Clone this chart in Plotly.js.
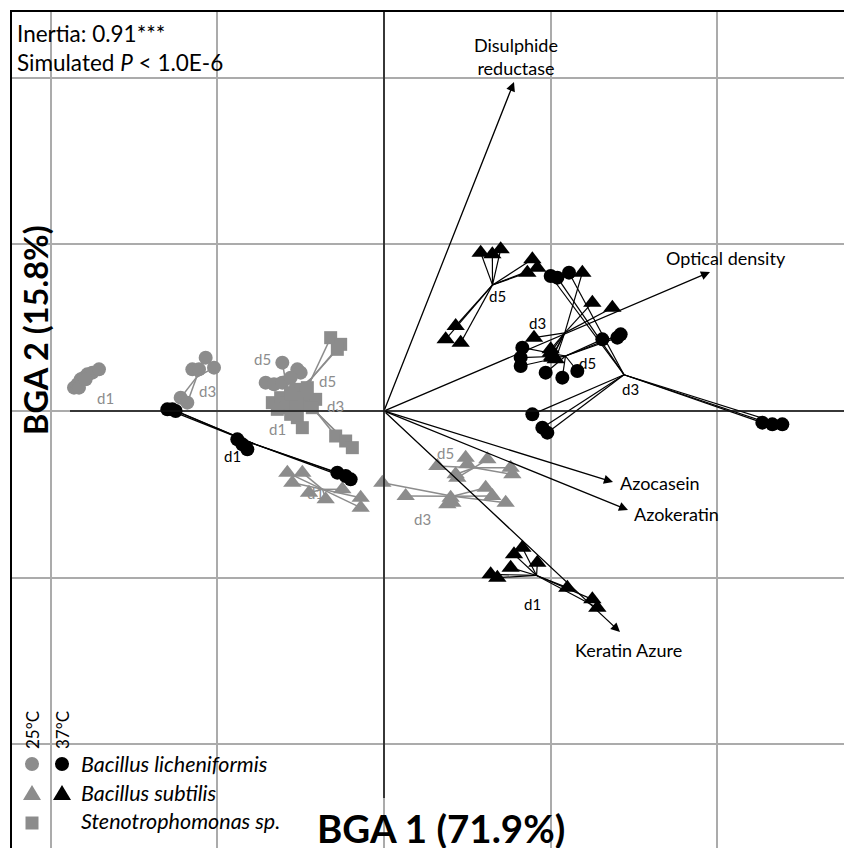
<!DOCTYPE html>
<html><head><meta charset="utf-8">
<script src="https://cdn.plot.ly/plotly-3.0.1.min.js"></script>
<style>html,body{margin:0;padding:0;background:#fff}#chart{width:844px;height:848px}</style>
</head><body><div id="chart"></div>
<script>
// ---------- data (BGA scores) ----------
// Bacillus licheniformis 25°C
const lich25_d1_x = [-1.86,-1.84,-1.82,-1.80,-1.78,-1.75,-1.71,-1.83,-1.79];
const lich25_d1_y = [0.14,0.16,0.19,0.20,0.22,0.23,0.25,0.14,0.19];
const lich25_d3_x = [-1.07,-1.15,-1.11,-1.02,-1.22,-1.18];
const lich25_d3_y = [0.32,0.25,0.25,0.26,0.08,0.05];
const lich25_d5_x = [-0.61,-0.52,-0.50,-0.71,-0.66,-0.61,-0.56];
const lich25_d5_y = [0.29,0.25,0.23,0.17,0.16,0.17,0.20];
// Stenotrophomonas sp. 25°C
const sten25_d1_x = [-0.67,-0.62,-0.59,-0.56,-0.52,-0.49,-0.64,-0.58,-0.53];
const sten25_d1_y = [0.05,0.08,0.02,-0.02,-0.04,-0.10,0.01,0.05,0.04];
const sten25_d3_x = [-0.29,-0.23,-0.19,-0.50,-0.47,-0.41,-0.56,-0.53,-0.43];
const sten25_d3_y = [-0.15,-0.18,-0.22,0.07,0.04,0.07,0.11,0.13,0.02];
const sten25_d5_x = [-0.32,-0.26,-0.28,-0.50,-0.47,-0.53,-0.52,-0.46,-0.56];
const sten25_d5_y = [0.44,0.40,0.37,0.10,0.11,0.08,0.04,0.14,0.10];
// Bacillus subtilis 25°C
const subt25_d1_x = [-0.58,-0.55,-0.49,-0.45,-0.35,-0.25,-0.14,-0.14];
const subt25_d1_y = [-0.37,-0.43,-0.37,-0.49,-0.53,-0.47,-0.52,-0.58];
const subt25_d3_x = [-0.01,0.13,0.38,0.41,0.40,0.61,0.65,0.73];
const subt25_d3_y = [-0.43,-0.51,-0.56,-0.55,-0.52,-0.46,-0.51,-0.55];
const subt25_d5_x = [0.32,0.49,0.50,0.43,0.44,0.62,0.76,0.77];
const subt25_d5_y = [-0.33,-0.28,-0.32,-0.38,-0.40,-0.29,-0.34,-0.38];
// Bacillus licheniformis 37°C
const lich37_d1_x = [-1.30,-1.27,-1.25,-0.88,-0.85,-0.82,-0.28,-0.23,-0.20];
const lich37_d1_y = [0.01,0.01,0.00,-0.17,-0.20,-0.23,-0.37,-0.39,-0.41];
const lich37_d3_x = [0.89,0.95,0.98,2.27,2.33,2.39,1.00,1.04,1.11];
const lich37_d3_y = [-0.02,-0.10,-0.13,-0.07,-0.08,-0.08,0.81,0.80,0.83];
const lich37_d5_x = [0.83,0.82,0.82,0.97,1.07,1.16,1.31,1.40,1.42];
const lich37_d5_y = [0.38,0.32,0.27,0.23,0.20,0.24,0.43,0.44,0.46];
// Bacillus subtilis 37°C
const subt37_d1_x = [0.64,0.68,0.76,0.78,0.83,0.92,1.10,1.25,1.28];
const subt37_d1_y = [-0.98,-1.00,-0.94,-0.86,-0.82,-0.91,-1.06,-1.13,-1.18];
const subt37_d3_x = [0.90,1.00,1.19,1.25,1.37,1.00,1.01,1.03,1.01];
const subt37_d3_y = [0.44,0.35,0.83,0.65,0.62,0.37,0.33,0.31,0.32];
const subt37_d5_x = [0.58,0.65,0.70,0.43,0.37,0.46,0.89,0.86,0.92];
const subt37_d5_y = [0.95,0.94,0.97,0.51,0.43,0.41,0.91,0.83,0.86];

// group labels (day) and their positions
const dayLabels = ['d1','d3','d5'];
const lich25_lblX = [-1.67,-1.06,-0.73], lich25_lblY = [0.08,0.12,0.31];
const sten25_lblX = [-0.64,-0.29,-0.34], sten25_lblY = [-0.11,0.03,0.18];
const subt25_lblX = [-0.41,0.23,0.37],  subt25_lblY = [-0.49,-0.65,-0.25];
const lich37_lblX = [-0.91,1.48,1.22],  lich37_lblY = [-0.27,0.13,0.29];
const subt37_lblX = [0.89,0.92,0.68],   subt37_lblY = [-1.16,0.53,0.69];

// variable arrows (correlations)
const varNames = ['Disulphide<br>reductase','Optical density','Azocasein','Azokeratin','Keratin Azure'];
const varX = [0.78,1.956,1.374,1.464,1.416];
const varY = [1.974,0.834,-0.426,-0.594,-1.326];

// legend
const speciesNames = ['Bacillus licheniformis','Bacillus subtilis','Stenotrophomonas sp.'];
const tempNames = ['25°C','37°C'];

// ---------- styles ----------
const GRAY = '#8c8c8c', BLACK = '#000000';
const FONT = 'Lato, "Open Sans", sans-serif';
const W = 844, H = 848, ML = 12, MT = 12;
const PX = 166.67; // pixels per unit
const OX = 384, OY = 411; // origin pixel
const xRange = [(ML-OX)/PX, (W-OX)/PX];
const yRange = [(OY-H)/PX, (OY-MT)/PX];
const paperX = px => (px-ML)/(W-ML);
const paperY = py => (H-py)/(H-MT);

const series = [
  {xs:[lich25_d1_x,lich25_d3_x,lich25_d5_x], ys:[lich25_d1_y,lich25_d3_y,lich25_d5_y], lx:lich25_lblX, ly:lich25_lblY, sym:'circle', col:GRAY},
  {xs:[sten25_d1_x,sten25_d3_x,sten25_d5_x], ys:[sten25_d1_y,sten25_d3_y,sten25_d5_y], lx:sten25_lblX, ly:sten25_lblY, sym:'square', col:GRAY},
  {xs:[subt25_d1_x,subt25_d3_x,subt25_d5_x], ys:[subt25_d1_y,subt25_d3_y,subt25_d5_y], lx:subt25_lblX, ly:subt25_lblY, sym:'triangle-up', col:GRAY},
  {xs:[lich37_d1_x,lich37_d3_x,lich37_d5_x], ys:[lich37_d1_y,lich37_d3_y,lich37_d5_y], lx:lich37_lblX, ly:lich37_lblY, sym:'circle', col:BLACK},
  {xs:[subt37_d1_x,subt37_d3_x,subt37_d5_x], ys:[subt37_d1_y,subt37_d3_y,subt37_d5_y], lx:subt37_lblX, ly:subt37_lblY, sym:'triangle-up', col:BLACK}
];
const symSize = {'circle':14,'square':13,'triangle-up':16};

const lineTraces = [], markerTraces = [], annotations = [];
series.forEach(s => {
  s.xs.forEach((gx, gi) => {
    const gy = s.ys[gi];
    const cx = gx.reduce((a,b)=>a+b,0)/gx.length;
    const cy = gy.reduce((a,b)=>a+b,0)/gy.length;
    const lx = [], ly = [];
    gx.forEach((v,i)=>{ lx.push(cx, v, null); ly.push(cy, gy[i], null); });
    lineTraces.push({type:'scatter', mode:'lines', x:lx, y:ly, hoverinfo:'skip',
      line:{color:s.col, width: s.col===GRAY?1.5:1.2}, showlegend:false});
    markerTraces.push({type:'scatter', mode:'markers', x:gx, y:gy, showlegend:false,
      marker:{symbol:s.sym, size:symSize[s.sym], color:s.col, line:{width:0}}});
    annotations.push({x:s.lx[gi], y:s.ly[gi], xref:'x', yref:'y', text:dayLabels[gi], showarrow:false,
      font:{family:FONT, size:15, color:s.col}});
  });
});

// arrows
varX.forEach((vx,i)=>{
  annotations.push({x:vx, y:varY[i], ax:0, ay:0, xref:'x', yref:'y', axref:'x', ayref:'y',
    text:'', showarrow:true, arrowhead:2, arrowsize:1.4, arrowwidth:1.3, arrowcolor:'#000', standoff:0, startstandoff:0});
});
const varLbl = [
  {xa:'center', ya:'bottom', xs:2, ys:1},
  {xa:'center', ya:'bottom', xs:16, ys:1},
  {xa:'left', ya:'middle', xs:5, ys:-1},
  {xa:'left', ya:'middle', xs:4, ys:-4},
  {xa:'center', ya:'top', xs:8, ys:-5}
];
varNames.forEach((n,i)=>{
  annotations.push({x:varX[i], y:varY[i], xref:'x', yref:'y', text:n, showarrow:false,
    xanchor:varLbl[i].xa, yanchor:varLbl[i].ya, xshift:varLbl[i].xs, yshift:varLbl[i].ys,
    font:{family:FONT, size:18, color:'#000'}});
});

// texts
annotations.push({xref:'paper', yref:'paper', x:paperX(15), y:paperY(33), xanchor:'left', yanchor:'middle',
  text:'Inertia: 0.91***', showarrow:false, font:{family:FONT, size:22.5, color:'#000'}});
annotations.push({xref:'paper', yref:'paper', x:paperX(15), y:paperY(63), xanchor:'left', yanchor:'middle',
  text:'Simulated <i>P</i> &lt; 1.0E-6', showarrow:false, font:{family:FONT, size:22.5, color:'#000'}});
// axis titles
annotations.push({xref:'paper', yref:'paper', x:paperX(35), y:paperY(330), xanchor:'center', yanchor:'middle',
  textangle:-90, text:'<b>BGA 2 (15.8%)</b>', showarrow:false, font:{family:FONT, size:32.5, color:'#000'}});
annotations.push({xref:'paper', yref:'paper', x:paperX(315), y:paperY(828), xanchor:'left', yanchor:'middle',
  text:'<b>BGA 1 (71.9%)</b>', showarrow:false, font:{family:FONT, size:38.5, color:'#000'}});
// legend
annotations.push({xref:'paper', yref:'paper', x:paperX(32), y:paperY(730), xanchor:'center', yanchor:'middle',
  textangle:-90, text:tempNames[0], showarrow:false, font:{family:FONT, size:17, color:'#000'}});
annotations.push({xref:'paper', yref:'paper', x:paperX(62), y:paperY(730), xanchor:'center', yanchor:'middle',
  textangle:-90, text:tempNames[1], showarrow:false, font:{family:FONT, size:17, color:'#000'}});
const legY = [764, 793, 821];
speciesNames.forEach((n,i)=>{
  annotations.push({xref:'paper', yref:'paper', x:paperX(79), y:paperY(legY[i]), xanchor:'left', yanchor:'middle',
    text:'<i>'+n+'</i>', showarrow:false, font:{family:FONT, size:21.5, color:'#000'}});
});

const shapes = [
  // axes through origin
  {type:'line', xref:'x', yref:'y', x0:(70-OX)/PX, x1:xRange[1], y0:0, y1:0, line:{color:'#111', width:1.5}},
  {type:'line', xref:'x', yref:'y', x0:0, x1:0, y0:yRange[1], y1:(OY-798)/PX, line:{color:'#111', width:1.5}},
];
// legend symbols
const legSym = (px, py, kind, col) => {
  const base = {xref:'paper', yref:'paper', xsizemode:'pixel', ysizemode:'pixel', xanchor:paperX(px), yanchor:paperY(py),
    fillcolor:col, line:{width:0}};
  if (kind==='circle') return Object.assign(base,{type:'circle', x0:-7, x1:7, y0:-7, y1:7});
  if (kind==='square') return Object.assign(base,{type:'rect', x0:-6.5, x1:6.5, y0:-6.5, y1:6.5});
  return Object.assign(base,{type:'path', path:'M-9,-7 L9,-7 L0,8 Z'});
};
shapes.push(legSym(32,764,'circle',GRAY), legSym(62,764,'circle',BLACK),
            legSym(32,793,'tri',GRAY), legSym(62,793,'tri',BLACK),
            legSym(32,823,'square',GRAY));

const layout = {
  width:W, height:H, margin:{l:ML, r:0, t:MT, b:0, pad:0},
  paper_bgcolor:'#fff', plot_bgcolor:'#fff', showlegend:false,
  xaxis:{range:xRange, dtick:1, tick0:0, showgrid:true, gridcolor:'#ababab', gridwidth:2,
    zeroline:false, showticklabels:false, ticks:'', showline:true, side:'top', linecolor:'#000', linewidth:2, fixedrange:true},
  yaxis:{range:yRange, dtick:1, tick0:0, showgrid:true, gridcolor:'#ababab', gridwidth:2,
    zeroline:false, showticklabels:false, ticks:'', showline:true, linecolor:'#000', linewidth:2, fixedrange:true},
  shapes:shapes, annotations:annotations
};
Plotly.newPlot('chart', lineTraces.concat(markerTraces), layout, {displayModeBar:false, staticPlot:true});
</script></body></html>
